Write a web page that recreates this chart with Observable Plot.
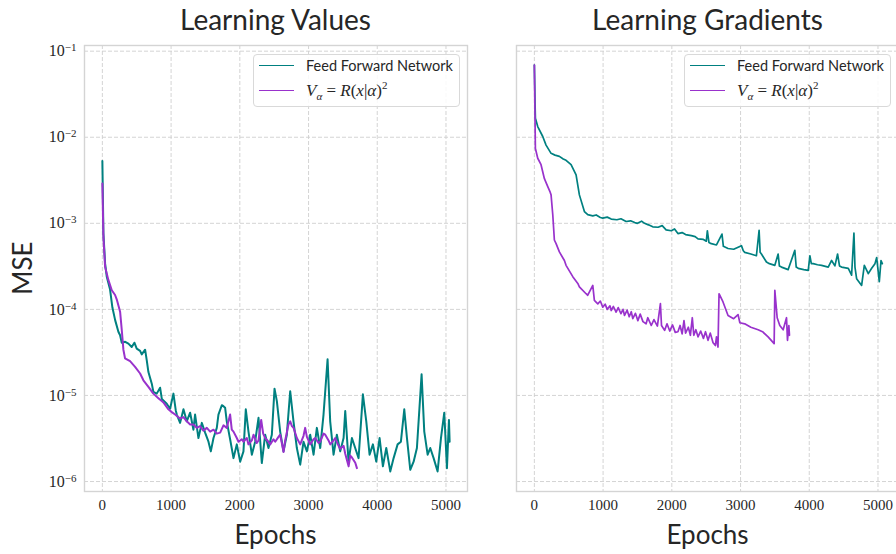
<!DOCTYPE html>
<html><head><meta charset="utf-8">
<script src="https://cdn.jsdelivr.net/npm/d3@7"></script>
<script src="https://cdn.jsdelivr.net/npm/@observablehq/plot@0.6"></script>
<style>
body{margin:0;background:#fff;}
#wrap{position:relative;width:896px;height:554px;overflow:hidden;background:#fff;}
.panel{position:absolute;top:0;}
.title{position:absolute;top:2px;width:383px;text-align:center;font-family:Lato,"Open Sans",sans-serif;font-size:28px;color:#262626;}
.xlab{position:absolute;top:518px;width:383px;text-align:center;font-family:Lato,"Open Sans",sans-serif;font-size:26px;color:#262626;}
.ylab{position:absolute;left:22px;top:268px;transform:translate(-50%,-50%) rotate(-90deg);font-family:Lato,"Open Sans",sans-serif;font-size:26px;color:#262626;white-space:nowrap;}
.legend{position:absolute;border:1px solid #d9d9d9;border-radius:4px;background:rgba(255,255,255,0.85);}
.legend .sw{position:absolute;left:5px;width:35px;height:0;border-top:1.7px solid;}
.legend .lt{position:absolute;left:52px;white-space:nowrap;color:#262626;}
.legend .ff{font-family:Lato,"Open Sans",sans-serif;font-size:14.5px;}
.legend .ma{font-family:"Liberation Serif",serif;font-size:17px;}
</style></head>
<body><div id="wrap"></div>
<script>
const titles = ["Learning Values", "Learning Gradients"];
const xLabel = "Epochs";
const yLabel = "MSE";
const seriesNames = ["Feed Forward Network", "V_alpha = R(x|alpha)^2"];
const colors = ["#008080", "#9932cc"];
const xTicks = [0, 1000, 2000, 3000, 4000, 5000];
const yTicks = [1e-6, 1e-5, 1e-4, 1e-3, 1e-2, 1e-1];

// Learning Values – Feed Forward Network
const ffValEpoch = [0,15,40,64,112,146,186,233,258,282,332,379,427,466,500,549,573,622,646,670,719,742,791,840,865,937,985,1034,1068,
 1083,1131,1180,1228,1277,1325,1349,1398,1447,1495,1544,1578,1617,1665,1689,1738,1762,1786,1810,1859,1908,1956,2005,2053,2087,2126,2175,2223,2272,2320,2369,2417,2466,2505,2539,2587,2636,2684,2733,2781,2830,2879,2927,2976,3024,3073,3121,3170,3218,3277,3315,3364,3412,3461,3510,3534,3582,3631,3679,3728,3791,3840,3888,3937,3985,4034,4082,4131,4189,4238,4296,4344,4393,4432,4480,4529,4577,4645,4684,4733,4771,4820,4878,4927,4975,5014,5043,5053];
const ffValMse = [5.3e-3,7.7e-4,3.4e-4,2.4e-4,1.7e-4,1.05e-4,7.5e-5,5.5e-5,5.0e-5,4.1e-5,4.2e-5,4.0e-5,3.65e-5,4.1e-5,3.5e-5,3.3e-5,3.0e-5,3.4e-5,2.55e-5,1.87e-5,1.37e-5,1.1e-5,1.05e-5,1.23e-5,9.1e-6,8.0e-6,7.0e-6,1.05e-5,6.7e-6,
 6.0e-6,4.8e-6,6.9e-6,5.0e-6,6.3e-6,4.0e-6,6.0e-6,3.2e-6,4.8e-6,3.7e-6,2.9e-6,2.24e-6,3.2e-6,4.2e-6,6.0e-6,7.7e-6,7.5e-6,7.2e-6,5.0e-6,3.1e-6,1.87e-6,2.7e-6,1.7e-6,2.24e-6,6.9e-6,3.8e-6,2.05e-6,2.9e-6,5.5e-6,1.64e-6,3.5e-6,2.45e-6,3.5e-6,1.2e-5,8.6e-6,3.8e-6,2.24e-6,3.5e-6,1.12e-5,5.0e-6,2.45e-6,1.57e-6,2.9e-6,2.24e-6,3.5e-6,2.05e-6,4.2e-6,2.45e-6,6.0e-6,2.63e-5,5.0e-6,2.05e-6,3.5e-6,2.24e-6,3.2e-6,6.6e-6,1.7e-6,3.2e-6,2.45e-6,1.87e-6,1.03e-5,5.0e-6,2.05e-6,2.7e-6,1.7e-6,3.2e-6,1.5e-6,2.45e-6,1.31e-6,1.87e-6,2.7e-6,2.9e-6,6.9e-6,3.2e-6,1.37e-6,1.7e-6,2.45e-6,1.76e-5,3.8e-6,2.05e-6,2.45e-6,1.87e-6,1.31e-6,3.2e-6,6.3e-6,1.43e-6,5.2e-6,2.9e-6];

// Learning Values – V_alpha
const vaValEpoch = [0,15,40,87,137,185,210,258,282,306,330,403,476,549,597,670,742,815,864,888,961,1010,1058,1130,1180,1228,1277,1325,1373,1422,1470,1520,1568,1617,1665,1714,1762,1810,1859,1883,1908,1956,1981,2029,2053,2102,2126,2175,2199,2247,2272,2311,2340,2369,2417,2442,2490,2515,2563,2587,2611,2636,2660,2708,2733,2758,2782,2830,2879,2927,2951,2976,3024,3073,3097,3146,3170,3218,3243,3291,3316,3364,3388,3437,3461,3510,3534,3583,3607,3631,3680,3704];
const vaValMse = [2.9e-3,7.0e-4,3.1e-4,2.2e-4,1.67e-4,1.47e-4,1.3e-4,9.4e-5,5.8e-5,3.4e-5,2.7e-5,2.5e-5,2.15e-5,1.8e-5,1.5e-5,1.26e-5,1.05e-5,9.3e-6,8.6e-6,8.3e-6,6.9e-6,6.4e-6,6.0e-6,5.4e-6,5.6e-6,5.0e-6,4.6e-6,4.6e-6,4.2e-6,4.4e-6,3.9e-6,4.2e-6,3.8e-6,4.0e-6,3.6e-6,3.7e-6,4.5e-6,4.2e-6,6.0e-6,4.0e-6,3.8e-6,3.2e-6,2.9e-6,3.1e-6,2.9e-6,3.2e-6,2.7e-6,3.0e-6,3.5e-6,2.8e-6,3.0e-6,5.2e-6,3.6e-6,3.2e-6,2.9e-6,2.7e-6,3.1e-6,2.9e-6,3.3e-6,3.5e-6,2.8e-6,2.2e-6,3.0e-6,4.6e-6,5.0e-6,4.4e-6,4.2e-6,3.2e-6,2.7e-6,3.4e-6,4.2e-6,3.3e-6,2.7e-6,3.1e-6,3.2e-6,2.8e-6,2.9e-6,3.6e-6,3.5e-6,3.0e-6,2.7e-6,3.0e-6,3.2e-6,2.6e-6,2.4e-6,2.6e-6,2.1e-6,1.5e-6,2.0e-6,1.9e-6,1.65e-6,1.43e-6];

// Learning Gradients – Feed Forward Network
const ffGradEpoch = [0,10,15,49,122,170,243,300,364,420,461,534,607,655,728,777,850,900,960,995,1060,1118,1200,1260,1335,1400,1460,1500,1560,1603,1660,1723,1800,1860,1917,1992,2040,2089,2150,2200,2284,2340,2381,2460,2502,2517,2540,2575,2650,2730,2750,2818,2900,3013,3040,3061,3150,3231,3270,3285,3304,3377,3420,3499,3547,3565,3596,3693,3790,3810,3839,3920,3985,4009,4030,4057,4120,4179,4276,4325,4373,4412,4440,4470,4568,4616,4650,4665,4689,4762,4801,4859,4908,4956,4981,5019,5044,5063];
const ffGradMse = [6.9e-2,2.5e-2,1.66e-2,1.33e-2,1.02e-2,8.1e-3,6.5e-3,6.2e-3,6.0e-3,5.6e-3,5.4e-3,4.8e-3,3.65e-3,2.14e-3,1.37e-3,1.26e-3,1.22e-3,1.25e-3,1.17e-3,1.15e-3,1.18e-3,1.12e-3,1.10e-3,1.13e-3,1.05e-3,1.07e-3,1.02e-3,1.0e-3,1.06e-3,1.0e-3,9.6e-4,9.1e-4,9.0e-4,9.4e-4,8.4e-4,8.2e-4,8.6e-4,7.6e-4,7.8e-4,7.4e-4,7.2e-4,7.0e-4,6.6e-4,6.5e-4,6.2e-4,8.2e-4,6.0e-4,5.8e-4,5.6e-4,7.5e-4,5.4e-4,5.1e-4,5.0e-4,5.5e-4,4.8e-4,4.6e-4,4.4e-4,4.2e-4,8.3e-4,4.6e-4,4.4e-4,3.55e-4,3.4e-4,3.25e-4,4.4e-4,3.2e-4,3.1e-4,2.9e-4,4.85e-4,3.1e-4,3.0e-4,2.9e-4,2.84e-4,4.2e-4,3.4e-4,3.4e-4,3.3e-4,3.25e-4,3.1e-4,3.7e-4,3.2e-4,4.4e-4,3.2e-4,3.1e-4,3.0e-4,2.5e-4,7.7e-4,3.1e-4,2.27e-4,1.9e-4,3.25e-4,2.6e-4,3.0e-4,3.4e-4,4.0e-4,2.1e-4,3.7e-4,3.4e-4];

// Learning Gradients – V_alpha
const vaGradEpoch = [0,8,15,49,97,146,195,230,243,268,291,316,364,437,461,559,632,655,752,777,850,873,923,960,995,1030,1060,1100,1118,1150,1189,1220,1260,1290,1312,1350,1380,1410,1432,1470,1506,1540,1580,1626,1650,1701,1740,1790,1834,1850,1895,1930,1970,2010,2050,2089,2120,2150,2177,2200,2240,2270,2298,2320,2350,2381,2420,2460,2490,2527,2560,2600,2634,2650,2672,2687,2745,2818,2900,2964,2990,3061,3150,3256,3320,3401,3489,3499,3533,3571,3620,3669,3683,3703,3712];
const vaGradMse = [6.9e-2,2.0e-2,7.4e-3,5.7e-3,4.8e-3,3.3e-3,2.67e-3,2.3e-3,2.14e-3,1.25e-3,6.4e-4,5.8e-4,4.65e-4,3.7e-4,3.25e-4,2.4e-4,2.0e-4,1.83e-4,1.52e-4,1.46e-4,1.9e-4,1.27e-4,1.16e-4,1.25e-4,1.06e-4,1.15e-4,1.0e-4,1.1e-4,9.7e-5,1.08e-4,9.3e-5,1.05e-4,8.9e-5,1.0e-4,8.5e-5,9.8e-5,8.2e-5,9.4e-5,7.8e-5,9.0e-5,7.4e-5,8.8e-5,7.2e-5,6.8e-5,8.0e-5,6.5e-5,7.6e-5,6.4e-5,1.17e-4,6.5e-5,5.7e-5,6.8e-5,5.6e-5,6.6e-5,5.4e-5,5.5e-5,6.5e-5,5.2e-5,7.4e-5,5.3e-5,6.2e-5,5.0e-5,8.0e-5,5.0e-5,5.8e-5,4.8e-5,5.6e-5,4.6e-5,5.5e-5,4.37e-5,5.3e-5,4.1e-5,3.8e-5,4.8e-5,3.65e-5,1.52e-4,1.22e-4,8.5e-5,7.8e-5,8.7e-5,7.0e-5,6.8e-5,6.2e-5,5.8e-5,5.5e-5,4.8e-5,4.0e-5,1.66e-4,8.0e-5,6.5e-5,5.8e-5,8.0e-5,4.37e-5,6.5e-5,5.0e-5];

const toRows = (ep, v) => ep.map((e, i) => ({epoch: e, mse: v[i]}));

function makePanel(series, showY, lw) {
  const marks = [
    Plot.gridX(xTicks, {stroke: "#cfcfcf", strokeOpacity: 1, strokeDasharray: "4,2", strokeWidth: 0.9}),
    Plot.gridY(yTicks, {stroke: "#cfcfcf", strokeOpacity: 1, strokeDasharray: "4,2", strokeWidth: 0.9}),
    Plot.frame({stroke: "#d4d4d4", strokeWidth: 1.4}),
    ...series.map((s, i) => Plot.line(s, {x: "epoch", y: "mse", stroke: colors[i], strokeWidth: lw, strokeLinejoin: "round"})),
    Plot.axisX(xTicks, {tickSize: 0, tickPadding: 8, label: null, fill: "#262626", tickFormat: d => String(d)}),
  ];
  if (showY) marks.push(Plot.axisY(yTicks, {tickSize: 0, tickPadding: 8, label: null, fill: "#262626",
    tickFormat: d => "10|" + Math.round(Math.log10(d))}));
  return Plot.plot({
    width: 480, height: 554,
    marginLeft: 84, marginRight: 13, marginTop: 45, marginBottom: 63,
    x: {domain: [-260, 5313], axis: null},
    y: {type: "log", domain: [Math.pow(10, -6.116), Math.pow(10, -0.934)], axis: null},
    style: {fontFamily: "'Liberation Serif', serif", fontSize: "15px", color: "#262626", background: "transparent"},
    marks
  });
}

const wrap = document.getElementById("wrap");
const p1 = makePanel([toRows(ffValEpoch, ffValMse), toRows(vaValEpoch, vaValMse)], true, 2);
const p2 = makePanel([toRows(ffGradEpoch, ffGradMse), toRows(vaGradEpoch, vaGradMse)], false, 1.7);
p1.classList.add("panel"); p1.style.left = "0px";
p2.classList.add("panel"); p2.style.left = "432px";
wrap.appendChild(p1); wrap.appendChild(p2);

// superscript exponents on y tick labels
p1.querySelectorAll('g[aria-label="y-axis tick label"] text').forEach(t => {
  const [base, ex] = t.textContent.split("|");
  t.textContent = base;
  t.setAttribute("font-size", "16px");
  const ts = document.createElementNS("http://www.w3.org/2000/svg", "tspan");
  ts.setAttribute("dy", "-0.45em");
  ts.setAttribute("font-size", "11px");
  ts.textContent = "\u2212" + String(Math.abs(+ex));
  t.appendChild(ts);
});

function addDiv(cls, left, text) {
  const d = document.createElement("div");
  d.className = cls; d.style.left = left + "px"; d.textContent = text;
  wrap.appendChild(d); return d;
}
addDiv("title", 84, titles[0]);
addDiv("title", 516, titles[1]);
addDiv("xlab", 84, xLabel);
addDiv("xlab", 516, xLabel);
const yl = document.createElement("div"); yl.className = "ylab"; yl.textContent = yLabel; wrap.appendChild(yl);

function legend(left, top) {
  const L = document.createElement("div");
  L.className = "legend";
  Object.assign(L.style, {left: left + "px", top: top + "px", width: "205px", height: "51px"});
  [11, 36].forEach((y, i) => {
    const sw = document.createElement("div"); sw.className = "sw";
    sw.style.top = (y - 1) + "px"; sw.style.borderTopColor = colors[i]; L.appendChild(sw);
  });
  const t1 = document.createElement("div"); t1.className = "lt ff"; t1.style.top = "2px";
  t1.textContent = seriesNames[0]; L.appendChild(t1);
  const t2 = document.createElement("div"); t2.className = "lt ma"; t2.style.top = "24px";
  t2.innerHTML = "<i>V</i><sub style='font-size:11px'><i>\u03b1</i></sub> = <i>R</i>(<i>x</i>|<i>\u03b1</i>)<sup style='font-size:11px'>2</sup>";
  L.appendChild(t2);
  wrap.appendChild(L);
}
legend(253, 54);
legend(684, 54);
</script></body></html>
